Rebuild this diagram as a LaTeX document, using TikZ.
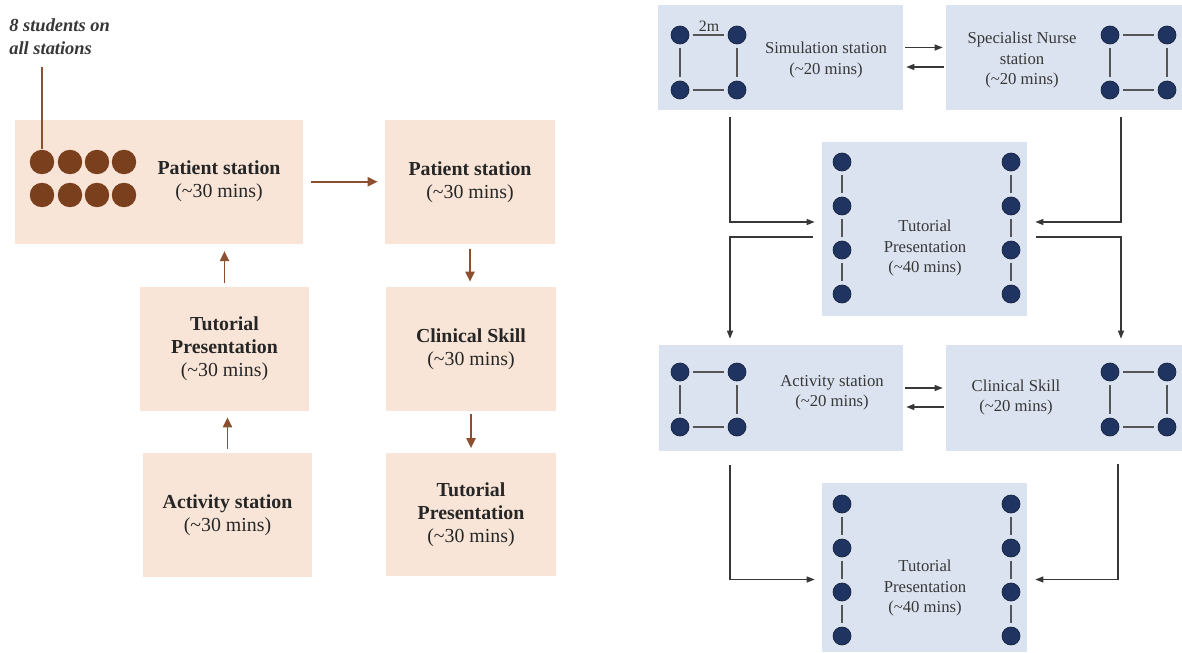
\documentclass[tikz,border=0pt]{standalone}
\usepackage{fontspec}
\setmainfont{Liberation Serif}
\usepackage{xcolor}
\definecolor{peachFill}{RGB}{248,229,215}
\definecolor{paleBlue}{RGB}{220,227,240}
\definecolor{seatBrown}{RGB}{122,64,30}
\definecolor{flowBrown}{RGB}{140,80,48}
\definecolor{navyDot}{RGB}{31,52,96}
\definecolor{darkGray}{RGB}{55,55,55}
\usetikzlibrary{arrows.meta, positioning, calc}
\tikzset{
    peach/.style={fill=peachFill, inner sep=0pt, minimum width=3.4cm, minimum height=2.48cm, align=center, font=\fontsize{11.3}{13.1}\selectfont, text=black!85},
    pale/.style={fill=paleBlue, inner sep=0pt},
    paleText/.style={align=center, inner sep=0pt, font=\fontsize{9.5}{11.4}\selectfont, text=darkGray},
    seat/.style={circle, fill=seatBrown, minimum size=0.49cm, inner sep=0pt},
    dot/.style={circle, fill=navyDot, draw=navyDot!70!black, line width=0.4pt, minimum size=0.36cm, inner sep=0pt},
    tie/.style={draw=darkGray!85, line width=0.7pt, shorten <=0.07cm, shorten >=0.07cm},
    flow/.style={-{Triangle[length=0.2cm, width=0.18cm]}, line width=1.1pt, draw=flowBrown},
    link/.style={-{Triangle[length=0.16cm, width=0.12cm]}, line width=0.7pt, draw=darkGray}
}

\begin{document}
\begin{tikzpicture}[x=0.02cm, y=-0.02cm]
    \useasboundingbox (0,0) rectangle (1182,652);

    % --- LEFT: 30 MINUTE ROTATION ---
    \node[peach, minimum width=5.76cm] (pat1) at (159,181.75) {};
    \node[align=center, inner sep=0pt, font=\fontsize{11.3}{13.1}\selectfont, text=black!85] (pat1txt) at (219,181.5) {\textbf{Patient station}\\(\textasciitilde30 mins)};
    \node[peach] (pat2) at (470,181.75) {\textbf{Patient station}\\(\textasciitilde30 mins)};
    \node[peach, minimum width=3.38cm] (tut1) at (224.5,349) {\textbf{Tutorial}\\\textbf{Presentation}\\(\textasciitilde30 mins)};
    \node[peach, minimum width=3.38cm] (act1) at (227.5,515) {\textbf{Activity station}\\(\textasciitilde30 mins)};
    \node[peach] (clin1) at (471,349) {\textbf{Clinical Skill}\\(\textasciitilde30 mins)};
    \node[peach] (tut2) at (471,514.5) {\textbf{Tutorial}\\\textbf{Presentation}\\(\textasciitilde30 mins)};

    % students
    \foreach \i/\x in {1/42, 2/70, 3/97, 4/124} {
        \node[seat] (s\i) at (\x,162) {};
        \node[seat] (r\i) at (\x,195) {};
    }
    \node[anchor=west, align=left, inner sep=0pt, font=\fontsize{10.5}{13}\selectfont\bfseries\itshape, text=darkGray] (note) at (9,36.5) {8 students on\\all stations};
    \coordinate (pinTop) at (42,67);
    \draw[draw=flowBrown, line width=1.1pt] (pinTop) -- (s1.north);

    \draw[flow, shorten <=0.15cm, shorten >=0.14cm] (pat1) -- (pat2);
    \draw[flow, shorten <=0.08cm, shorten >=0.14cm] (tut1.north) -- (tut1.north |- pat1.south);
    \draw[flow, shorten <=0.08cm, shorten >=0.12cm] (act1.north) -- (act1.north |- tut1.south);
    \draw[flow, shorten <=0.09cm, shorten >=0.1cm] (pat2.south) -- (pat2.south |- clin1.north);
    \draw[flow, shorten <=0.06cm, shorten >=0.08cm] (clin1.south) -- (clin1.south |- tut2.north);

    % --- RIGHT: 20/40 MINUTE ROTATION ---
    \node[pale, minimum width=4.9cm, minimum height=2.1cm] (sim) at (780.5,57.5) {};
    \node[pale, minimum width=4.72cm, minimum height=2.1cm] (spec) at (1064,57.5) {};
    \node[pale, minimum width=4.1cm, minimum height=3.48cm] (tutA) at (924.5,229) {};
    \node[pale, minimum width=4.88cm, minimum height=2.12cm] (act2) at (781,398) {};
    \node[pale, minimum width=4.72cm, minimum height=2.12cm] (clin2) at (1064,398) {};
    \node[pale, minimum width=4.1cm, minimum height=3.38cm] (tutB) at (924.5,567.5) {};

    \node[paleText] (simTxt) at (826,60) {Simulation station\\(\textasciitilde20 mins)};
    \node[paleText] (specTxt) at (1022,60) {Specialist Nurse\\station\\(\textasciitilde20 mins)};
    \node[paleText] (tutATxt) at (925,248) {Tutorial\\Presentation\\(\textasciitilde40 mins)};
    \node[paleText] (actTxt) at (832,393) {Activity station\\(\textasciitilde20 mins)};
    \node[paleText] (clinTxt) at (1016,397) {Clinical Skill\\(\textasciitilde20 mins)};
    \node[paleText] (tutBTxt) at (925,588) {Tutorial\\Presentation\\(\textasciitilde40 mins)};

    % squares of four
    \foreach \nm/\xa/\ya in {qa/680/35, qb/1110/35, qc/680/372, qd/1110/372} {
        \node[dot] (\nm1) at (\xa,\ya) {};
        \node[dot] (\nm2) at (\xa+57,\ya) {};
        \node[dot] (\nm3) at (\xa,\ya+55) {};
        \node[dot] (\nm4) at (\xa+57,\ya+55) {};
        \draw[tie] (\nm1) -- (\nm2);
        \draw[tie] (\nm3) -- (\nm4);
        \draw[tie] (\nm1) -- (\nm3);
        \draw[tie] (\nm2) -- (\nm4);
    }
    \node[paleText, font=\fontsize{9}{10}\selectfont] (gap) at (709,26) {2m};

    % columns of four
    \foreach \nm/\xa/\ya in {ka/842/162, kb/1011/162, kc/842/504, kd/1011/504} {
        \foreach \k in {0,1,2,3} {
            \node[dot] (\nm\k) at (\xa,\ya+44*\k) {};
        }
        \draw[tie] (\nm0) -- (\nm1);
        \draw[tie] (\nm1) -- (\nm2);
        \draw[tie] (\nm2) -- (\nm3);
    }

    % swaps
    \draw[link, shorten <=0.04cm, shorten >=0.06cm] ([yshift=0.2cm]sim.east) -- ([yshift=0.2cm]spec.west);
    \draw[link, shorten <=0.04cm, shorten >=0.06cm] ([yshift=-0.19cm]spec.west) -- ([yshift=-0.19cm]sim.east);
    \draw[link, shorten <=0.04cm, shorten >=0.06cm] ([yshift=0.2cm]act2.east) -- ([yshift=0.2cm]clin2.west);
    \draw[link, shorten <=0.04cm, shorten >=0.06cm] ([yshift=-0.18cm]clin2.west) -- ([yshift=-0.18cm]act2.east);

    % into and out of tutorials
    \draw[link] ([xshift=-1.01cm, yshift=-0.14cm]sim.south) |- ([xshift=-0.14cm, yshift=0.14cm]tutA.west);
    \draw[link] ([xshift=-0.18cm, yshift=-0.16cm]tutA.west) -| ([xshift=-1.02cm, yshift=0.12cm]act2.north);
    \draw[link] ([xshift=1.14cm, yshift=-0.14cm]spec.south) |- ([xshift=0.16cm, yshift=0.14cm]tutA.east);
    \draw[link] ([xshift=0.18cm, yshift=-0.16cm]tutA.east) -| ([xshift=1.14cm, yshift=0.12cm]clin2.north);
    \draw[link] ([xshift=-1.02cm, yshift=-0.28cm]act2.south) |- ([xshift=-0.14cm, yshift=-0.24cm]tutB.west);
    \draw[link] ([xshift=1.08cm, yshift=-0.26cm]clin2.south) |- ([xshift=0.16cm, yshift=-0.24cm]tutB.east);

\end{tikzpicture}
\end{document}
